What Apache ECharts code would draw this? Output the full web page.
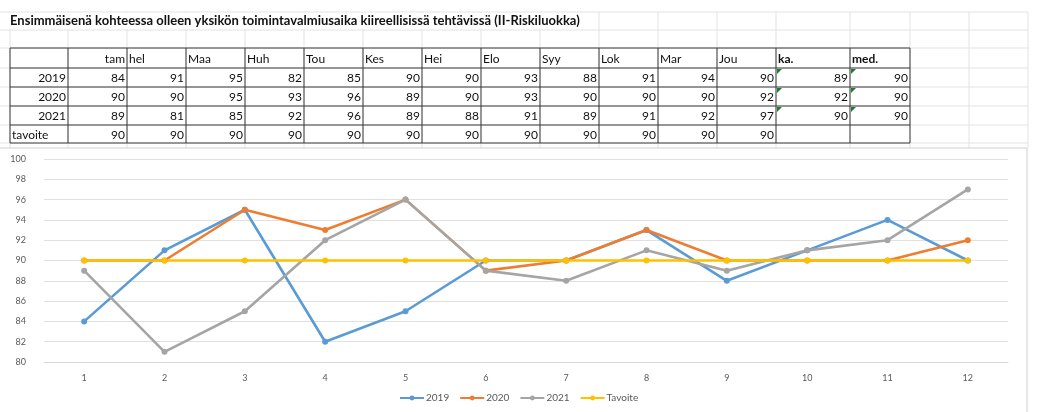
<!DOCTYPE html>
<html>
<head>
<meta charset="utf-8">
<script src="https://cdn.jsdelivr.net/npm/echarts@6/dist/echarts.min.js"></script>
<style>
  html, body { margin: 0; padding: 0; background: #fff; }
  #chart { width: 1053px; height: 412px; }
</style>
</head>
<body>
<div id="chart"></div>
<script>
var title = 'Ensimmäisenä kohteessa olleen yksikön toimintavalmiusaika kiireellisissä tehtävissä (II-Riskiluokka)';
var months = ['tam', 'hel', 'Maa', 'Huh', 'Tou', 'Kes', 'Hei', 'Elo', 'Syy', 'Lok', 'Mar', 'Jou'];
var rowNames = ['2019', '2020', '2021', 'tavoite'];
var xTicks = ['1', '2', '3', '4', '5', '6', '7', '8', '9', '10', '11', '12'];
var v2019 = [84, 91, 95, 82, 85, 90, 90, 93, 88, 91, 94, 90];
var v2020 = [90, 90, 95, 93, 96, 89, 90, 93, 90, 90, 90, 92];
var v2021 = [89, 81, 85, 92, 96, 89, 88, 91, 89, 91, 92, 97];
var tavoite = [90, 90, 90, 90, 90, 90, 90, 90, 90, 90, 90, 90];
var kaValues = [89, 92, 90];
var medValues = [90, 90, 90];

(function() {
  var chartEl = document.getElementById('chart');
  var font = 'Lato, "Liberation Sans", sans-serif';
  var gridGray = '#e3e3e3';
  var border = '#3a3a3a';

  // spreadsheet column / row edges (layout only)
  var colX = [10, 68, 127, 186, 245, 304, 363, 422, 481, 540, 599, 658, 717, 776, 850, 910];
  var rowY = [48, 68, 87, 106, 125, 143];
  var sheetCols = colX.concat([969, 1028]);
  var sheetRows = [12, 30, 48, 68, 87, 106, 125, 143];

  var g = [];
  // faint sheet gridlines
  sheetRows.forEach(function(y) {
    g.push({ type: 'line', silent: true, shape: { x1: 0, y1: y, x2: 1028, y2: y }, style: { stroke: gridGray, lineWidth: 1 } });
  });
  sheetCols.forEach(function(x) {
    g.push({ type: 'line', silent: true, shape: { x1: x, y1: 12, x2: x, y2: 148 }, style: { stroke: gridGray, lineWidth: 1 } });
  });
  // title cell background hides gridlines under the title
  g.push({ type: 'rect', silent: true, shape: { x: 8, y: 13, width: 584, height: 16 }, style: { fill: '#fff' } });
  g.push({ type: 'text', silent: true, x: 10, y: 21, style: { text: title, font: 'bold 13px ' + font, fill: '#111', verticalAlign: 'middle' } });

  // table borders
  rowY.forEach(function(y) {
    g.push({ type: 'line', silent: true, shape: { x1: colX[0], y1: y, x2: colX[colX.length - 1], y2: y }, style: { stroke: border, lineWidth: 1 } });
  });
  colX.forEach(function(x) {
    g.push({ type: 'line', silent: true, shape: { x1: x, y1: rowY[0], x2: x, y2: rowY[rowY.length - 1] }, style: { stroke: border, lineWidth: 1 } });
  });

  function cell(text, col, row, align, bold) {
    var x0 = colX[col], x1 = colX[col + 1];
    var yMid = (rowY[row] + rowY[row + 1]) / 2 + 1;
    g.push({
      type: 'text', silent: true,
      x: align === 'right' ? x1 - 2 : x0 + 2,
      y: yMid,
      style: { text: String(text), font: (bold ? 'bold ' : '') + '12px ' + font, fill: '#111', align: align, verticalAlign: 'middle' }
    });
  }

  // header row
  months.forEach(function(m, i) {
    cell(m, i + 1, 0, i === 0 ? 'right' : 'left', false);
  });
  cell('ka.', 13, 0, 'left', true);
  cell('med.', 14, 0, 'left', true);

  var rows = [v2019, v2020, v2021, tavoite];
  rows.forEach(function(vals, r) {
    cell(rowNames[r], 0, r + 1, r === 3 ? 'left' : 'right', false);
    vals.forEach(function(v, i) {
      cell(v, i + 1, r + 1, 'right', false);
    });
    if (r < 3) {
      cell(kaValues[r], 13, r + 1, 'right', false);
      cell(medValues[r], 14, r + 1, 'right', false);
      [13, 14].forEach(function(c) {
        var x = colX[c] + 1, y = rowY[r + 1] + 1;
        g.push({ type: 'polygon', silent: true, shape: { points: [[x, y], [x + 5, y], [x, y + 5]] }, style: { fill: '#1e7b34' } });
      });
    }
  });

  // chart area frame
  g.push({ type: 'line', silent: true, shape: { x1: 1027, y1: 148, x2: 1027, y2: 412 }, style: { stroke: '#d0d0d0', lineWidth: 1 } });
  g.push({ type: 'line', silent: true, shape: { x1: 0, y1: 148, x2: 1027, y2: 148 }, style: { stroke: '#d0d0d0', lineWidth: 1 } });

  function lineSeries(name, data, color) {
    return {
      name: name,
      type: 'line',
      data: data,
      symbol: 'circle',
      symbolSize: 6,
      lineStyle: { width: 2.6, color: color },
      itemStyle: { color: color },
      emphasis: { disabled: true }
    };
  }

  var chart = echarts.init(chartEl, null, { renderer: 'canvas' });
  chart.setOption({
    animation: false,
    backgroundColor: '#fff',
    textStyle: { fontFamily: font },
    graphic: g,
    legend: {
      bottom: 4,
      left: 394,
      itemWidth: 24,
      itemHeight: 6,
      itemGap: 10,
      textStyle: { color: '#595959', fontSize: 10, fontFamily: font, padding: [0, 0, 0, -3] },
      data: ['2019', '2020', '2021', 'Tavoite']
    },
    grid: { left: 44, right: 45, top: 159, bottom: 50 },
    xAxis: {
      type: 'category',
      data: xTicks,
      boundaryGap: true,
      axisLine: { lineStyle: { color: '#d9d9d9' } },
      axisTick: { show: false },
      axisLabel: { color: '#595959', fontSize: 9, margin: 12 }
    },
    yAxis: {
      type: 'value',
      min: 80,
      max: 100,
      interval: 2,
      axisLine: { show: false },
      axisTick: { show: false },
      axisLabel: { color: '#595959', fontSize: 9, margin: 18 },
      splitLine: { lineStyle: { color: '#e0e0e0' } }
    },
    series: [
      lineSeries('2019', v2019, '#5b9bd5'),
      lineSeries('2020', v2020, '#ed7d31'),
      lineSeries('2021', v2021, '#a5a5a5'),
      lineSeries('Tavoite', tavoite, '#ffc000')
    ]
  });
})();
</script>
</body>
</html>
